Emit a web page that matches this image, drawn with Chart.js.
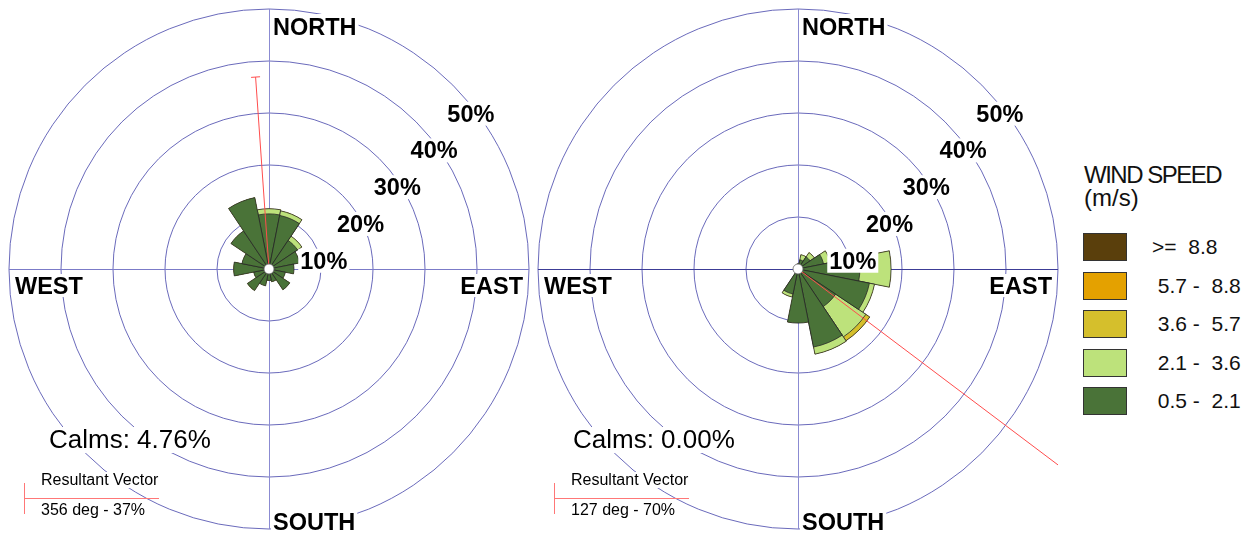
<!DOCTYPE html>
<html>
<head>
<meta charset="utf-8">
<script src="https://cdn.jsdelivr.net/npm/chart.js@4.4.1/dist/chart.umd.min.js"></script>
<style>
  body { margin: 0; background: #fff; font-family: "Liberation Sans", Arial, sans-serif; }
  #wrap { position: relative; width: 1251px; height: 533px; overflow: hidden; }
  #roseA { position: absolute; left: 0; top: 0; }
  #roseB { position: absolute; left: 530px; top: 0; }
  .lg-title { position: absolute; left: 1084px; font-size: 24px; line-height: 24px; color: #111; white-space: nowrap; }
  .lg-box { position: absolute; left: 1083px; width: 42px; height: 26px; border: 1px solid #333; }
  .lg-text { position: absolute; left: 1152px; font-size: 21px; line-height: 28px; white-space: pre; color: #111; }
</style>
</head>
<body>
<div id="wrap">
  <canvas id="roseA" width="530" height="533"></canvas>
  <canvas id="roseB" width="540" height="533"></canvas>
  <div class="lg-title" style="top:163px; letter-spacing:-1.5px">WIND SPEED</div>
  <div class="lg-title" style="top:186px">(m/s)</div>
  <div id="legend"></div>
</div>
<script>
// 16 compass sectors, clockwise from north
const directions = ['N', 'NNE', 'NE', 'ENE', 'E', 'ESE', 'SE', 'SSE', 'S', 'SSW', 'SW', 'WSW', 'W', 'WNW', 'NW', 'NNW'];
const speedBins = [' 0.5 -  2.1', ' 2.1 -  3.6', ' 3.6 -  5.7', ' 5.7 -  8.8', '>=  8.8'];
const binColors = ['#4a7338', '#bde27b', '#d5bf2c', '#e4a100', '#5a3f0c'];
const radialTicks = [10, 20, 30, 40, 50];

// left rose: frequency (%) per direction and speed class
const leftBin1 = [10.6, 10.5, 6.6, 6.0, 4.8, 3.2, 4.8, 2.5, 2.2, 3.3, 5.0, 3.0, 6.8, 5.3, 8.8, 14.0];
const leftBin2 = [1.0, 0.9, 1.0, 0, 0, 0, 0, 0, 0, 0, 0, 0, 0, 0, 0, 0];
const leftBin3 = [0, 0, 0, 0, 0, 0, 0, 0, 0, 0, 0, 0, 0, 0, 0, 0];
const leftBin4 = [0, 0, 0, 0, 0, 0, 0, 0, 0, 0, 0, 0, 0, 0, 0, 0];
const leftBin5 = [0, 0, 0, 0, 0, 0, 0, 0, 0, 0, 0, 0, 0, 0, 0, 0];

// right rose
const rightBin1 = [1.0, 1.8, 2.8, 5.0, 11.9, 14.0, 8.7, 15.3, 10.4, 4.9, 0, 0, 0, 0, 0, 0];
const rightBin2 = [0, 1.0, 1.0, 1.3, 6.0, 1.0, 7.0, 1.4, 0, 0.6, 0, 0, 0, 0, 0, 0];
const rightBin3 = [0, 0, 0, 0, 0, 0, 0.9, 0, 0, 0, 0, 0, 0, 0, 0, 0];
const rightBin4 = [0, 0, 0, 0, 0, 0, 0, 0, 0, 0, 0, 0, 0, 0, 0, 0];
const rightBin5 = [0, 0, 0, 0, 0, 0, 0, 0, 0, 0, 0, 0, 0, 0, 0, 0];

const leftCalms = 4.76, leftVectorDeg = 356, leftVectorPct = 37;
const rightCalms = 0.00, rightVectorDeg = 127, rightVectorPct = 70;

const ringColor = 'rgba(80, 80, 175, 0.85)';
const labelFont = 'bold 23.5px "Liberation Sans", Arial, sans-serif';

// running totals so each class sits on top of the slower ones
function stackBins(bins) {
    let run = directions.map(() => 0);
    return bins.map(b => {
        run = run.map((v, i) => v + b[i]);
        return run.slice();
    });
}

function boxText(ctx, text, tx, ty, align, up, down) {
    const w = ctx.measureText(text).width;
    const left = align === 'right' ? tx - w : align === 'center' ? tx - w / 2 : tx;
    ctx.fillStyle = '#fff';
    ctx.fillRect(left - 2, ty - up, w + 4, up + down);
    ctx.fillStyle = '#000';
    ctx.textAlign = align;
    ctx.fillText(text, tx, ty);
}

const roseDecor = {
    id: 'roseDecor',
    beforeDatasetsDraw(chart, args, o) {
        const s = chart.scales.r, ctx = chart.ctx;
        const R = s.drawingArea, x = s.xCenter, y = s.yCenter;
        ctx.save();
        ctx.lineWidth = 1;
        ctx.strokeStyle = '#8b8bd2';
        ctx.beginPath(); ctx.moveTo(x + 0.5, y - R); ctx.lineTo(x + 0.5, y + R); ctx.stroke();
        ctx.strokeStyle = o.hLine;
        ctx.beginPath(); ctx.moveTo(x - R, y + 0.5); ctx.lineTo(x + R, y + 0.5); ctx.stroke();
        ctx.restore();
    },
    afterDatasetsDraw(chart, args, o) {
        const s = chart.scales.r, ctx = chart.ctx, a = chart.chartArea;
        const R = s.drawingArea, x = s.xCenter, y = s.yCenter;

        // resultant vector
        const rv = s.getDistanceFromCenterForValue(o.vectorPct);
        const th = o.vectorDeg * Math.PI / 180;
        const ex = x + rv * Math.sin(th), ey = y - rv * Math.cos(th);
        ctx.save();
        ctx.beginPath(); ctx.rect(a.left, a.top, a.right - a.left, a.bottom - a.top); ctx.clip();
        ctx.strokeStyle = '#ff4d4d'; ctx.lineWidth = 1;
        ctx.beginPath();
        ctx.moveTo(x, y); ctx.lineTo(ex, ey);
        ctx.moveTo(ex - Math.cos(th) * 4.5, ey - Math.sin(th) * 4.5);
        ctx.lineTo(ex + Math.cos(th) * 4.5, ey + Math.sin(th) * 4.5);
        ctx.stroke();
        ctx.restore();

        ctx.save();
        // calm circle
        ctx.beginPath(); ctx.arc(x, y, 5, 0, Math.PI * 2);
        ctx.fillStyle = '#fff'; ctx.fill();
        ctx.strokeStyle = '#666'; ctx.lineWidth = 0.8; ctx.stroke();

        // compass and ring labels
        ctx.font = labelFont;
        ctx.textBaseline = 'alphabetic';
        boxText(ctx, 'NORTH', x + 4, y - R + 26, 'left', 21, 3);
        boxText(ctx, 'SOUTH', x + 4, y + R + 1, 'left', 21, 4);
        boxText(ctx, 'WEST', x - R + 6, y + 25, 'left', 20, 3);
        boxText(ctx, 'EAST', x + R - 6, y + 25, 'right', 20, 3);
        radialTicks.forEach(v => {
            const r = s.getDistanceFromCenterForValue(v);
            boxText(ctx, v + '%', x + r * Math.SQRT1_2 + 18, y - r * Math.SQRT1_2 + 36.5, 'center', 20, 4);
        });

        // calms and resultant vector key
        ctx.font = '26px "Liberation Sans", Arial, sans-serif';
        boxText(ctx, 'Calms: ' + o.calms.toFixed(2) + '%', o.calmsX, 448, 'left', 21, 5);
        ctx.font = '16px "Liberation Sans", Arial, sans-serif';
        boxText(ctx, 'Resultant Vector', 41, 485, 'left', 13, 3);
        boxText(ctx, o.vectorDeg + ' deg - ' + o.vectorPct + '%', 41, 515, 'left', 12, 4);
        ctx.strokeStyle = '#f77'; ctx.lineWidth = 1;
        ctx.beginPath();
        ctx.moveTo(24, 498.5); ctx.lineTo(159, 498.5);
        ctx.moveTo(24.5, 483); ctx.lineTo(24.5, 514);
        ctx.stroke();
        ctx.restore();
    }
};

function makeRose(id, bins, info) {
    const cum = stackBins(bins);
    return new Chart(document.getElementById(id), {
        type: 'polarArea',
        data: {
            labels: directions,
            datasets: cum.map((d, k) => ({
                label: speedBins[k],
                data: d,
                backgroundColor: binColors[k],
                borderColor: 'rgba(40, 40, 40, 0.8)',
                borderWidth: c => (bins[k][c.dataIndex] > 0 ? 1 : 0),
                order: k
            }))
        },
        options: {
            responsive: false,
            animation: false,
            layout: { padding: info.padding },
            plugins: { legend: { display: false }, tooltip: { enabled: false }, roseDecor: info },
            scales: {
                r: {
                    min: 0, max: 50, startAngle: -11.25,
                    ticks: { display: false, stepSize: 10 },
                    grid: { circular: true, color: ringColor, lineWidth: 1 },
                    angleLines: { display: false },
                    pointLabels: { display: false }
                }
            }
        },
        plugins: [roseDecor]
    });
}

makeRose('roseA', [leftBin1, leftBin2, leftBin3, leftBin4, leftBin5], {
    padding: { left: 9, right: 1, top: 9, bottom: 4 },
    calms: leftCalms, vectorDeg: leftVectorDeg, vectorPct: leftVectorPct,
    calmsX: 49, hLine: '#7b7bc8'
});
makeRose('roseB', [rightBin1, rightBin2, rightBin3, rightBin4, rightBin5], {
    padding: { left: 8, right: 12, top: 9, bottom: 4 },
    calms: rightCalms, vectorDeg: rightVectorDeg, vectorPct: rightVectorPct,
    calmsX: 43, hLine: '#3c3c96'
});

// speed legend, fastest class first
const legend = document.getElementById('legend');
speedBins.slice().reverse().forEach((lbl, i) => {
    const k = speedBins.length - 1 - i;
    const top = 233 + i * 38.5;
    legend.insertAdjacentHTML('beforeend',
        `<div class="lg-box" style="top:${top}px;background:${binColors[k]}"></div>` +
        `<div class="lg-text" style="top:${top}px">${lbl.replace('>', '&gt;')}</div>`);
});
</script>
</body>
</html>
